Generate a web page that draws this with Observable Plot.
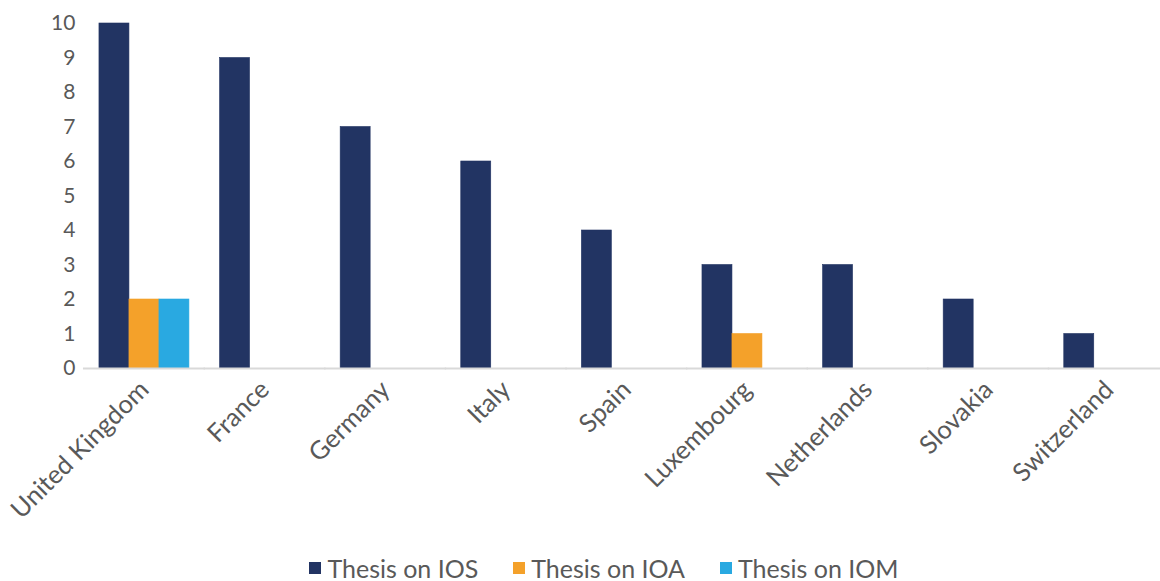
<!DOCTYPE html>
<html><head><meta charset="utf-8">
<script src="https://cdn.jsdelivr.net/npm/d3@7"></script>
<script src="https://cdn.jsdelivr.net/npm/@observablehq/plot@0.6"></script>
<style>
html,body{margin:0;padding:0;background:#fff;overflow:hidden;width:1160px;height:581px;}
#chart svg{display:block;}
#legend{display:flex;justify-content:center;align-items:center;font-family:Lato,"Open Sans",sans-serif;font-size:25px;color:#595959;margin-top:13px;padding-left:83px;}
.item{display:flex;align-items:center;margin-right:35px;}
.sw{width:12px;height:12px;margin-right:6px;}
</style></head>
<body>
<div id="chart"></div>
<div id="legend"></div>
<script>
const countries = ["United Kingdom","France","Germany","Italy","Spain","Luxembourg","Netherlands","Slovakia","Switzerland"];
const seriesNames = ["Thesis on IOS","Thesis on IOA","Thesis on IOM"];
const ios = [10,9,7,6,4,3,3,2,1];
const ioa = [2,0,0,0,0,1,0,0,0];
const iom = [2,0,0,0,0,0,0,0,0];
const colors = ["#223463","#F4A12A","#29A9E1"];
const yTicks = [0,1,2,3,4,5,6,7,8,9,10];

const seriesValues = [ios, ioa, iom];
const rows = [];
countries.forEach((c,i) => seriesNames.forEach((s,j) => rows.push({country:c, series:s, value:seriesValues[j][i]})));
const bars = rows.filter(d => d.value > 0);

const chart = Plot.plot({
  width: 1160,
  height: 540,
  marginTop: 23,
  marginBottom: 172,
  marginLeft: 84,
  marginRight: -8.7,
  style: {fontFamily: "Lato, 'Open Sans', sans-serif", fontSize: "21px", color: "#595959", background: "#fff"},
  fx: {domain: countries, paddingInner: 0.254, paddingOuter: 0.124, round: false, label: null},
  x: {domain: seriesNames, padding: 0, round: false, axis: null},
  y: {domain: [0,10], label: null},
  color: {domain: seriesNames, range: colors},
  marks: [
    Plot.axisY({ticks: yTicks, tickSize: 0, tickPadding: 24, label: null, fontSize: 21, fill: "#595959"}),
    Plot.axisFx({anchor: "bottom", tickRotate: -45, tickSize: 0, tickPadding: 17, label: null, fontSize: 25.5, fill: "#595959"}),
    Plot.barY(bars, {fx: "country", x: "series", y: "value", fill: "series", stroke: "series", strokeWidth: 0.6}),
    Plot.ruleY([0], {stroke: "#d9d9d9", strokeWidth: 2, insetLeft: -16, insetRight: -16})
  ]
});
document.getElementById("chart").appendChild(chart);

const leg = document.getElementById("legend");
seriesNames.forEach((s,i) => {
  const it = document.createElement("div"); it.className = "item";
  const sw = document.createElement("div"); sw.className = "sw"; sw.style.background = colors[i];
  const t = document.createElement("span"); t.textContent = s;
  it.appendChild(sw); it.appendChild(t); leg.appendChild(it);
});
</script>
</body></html>
